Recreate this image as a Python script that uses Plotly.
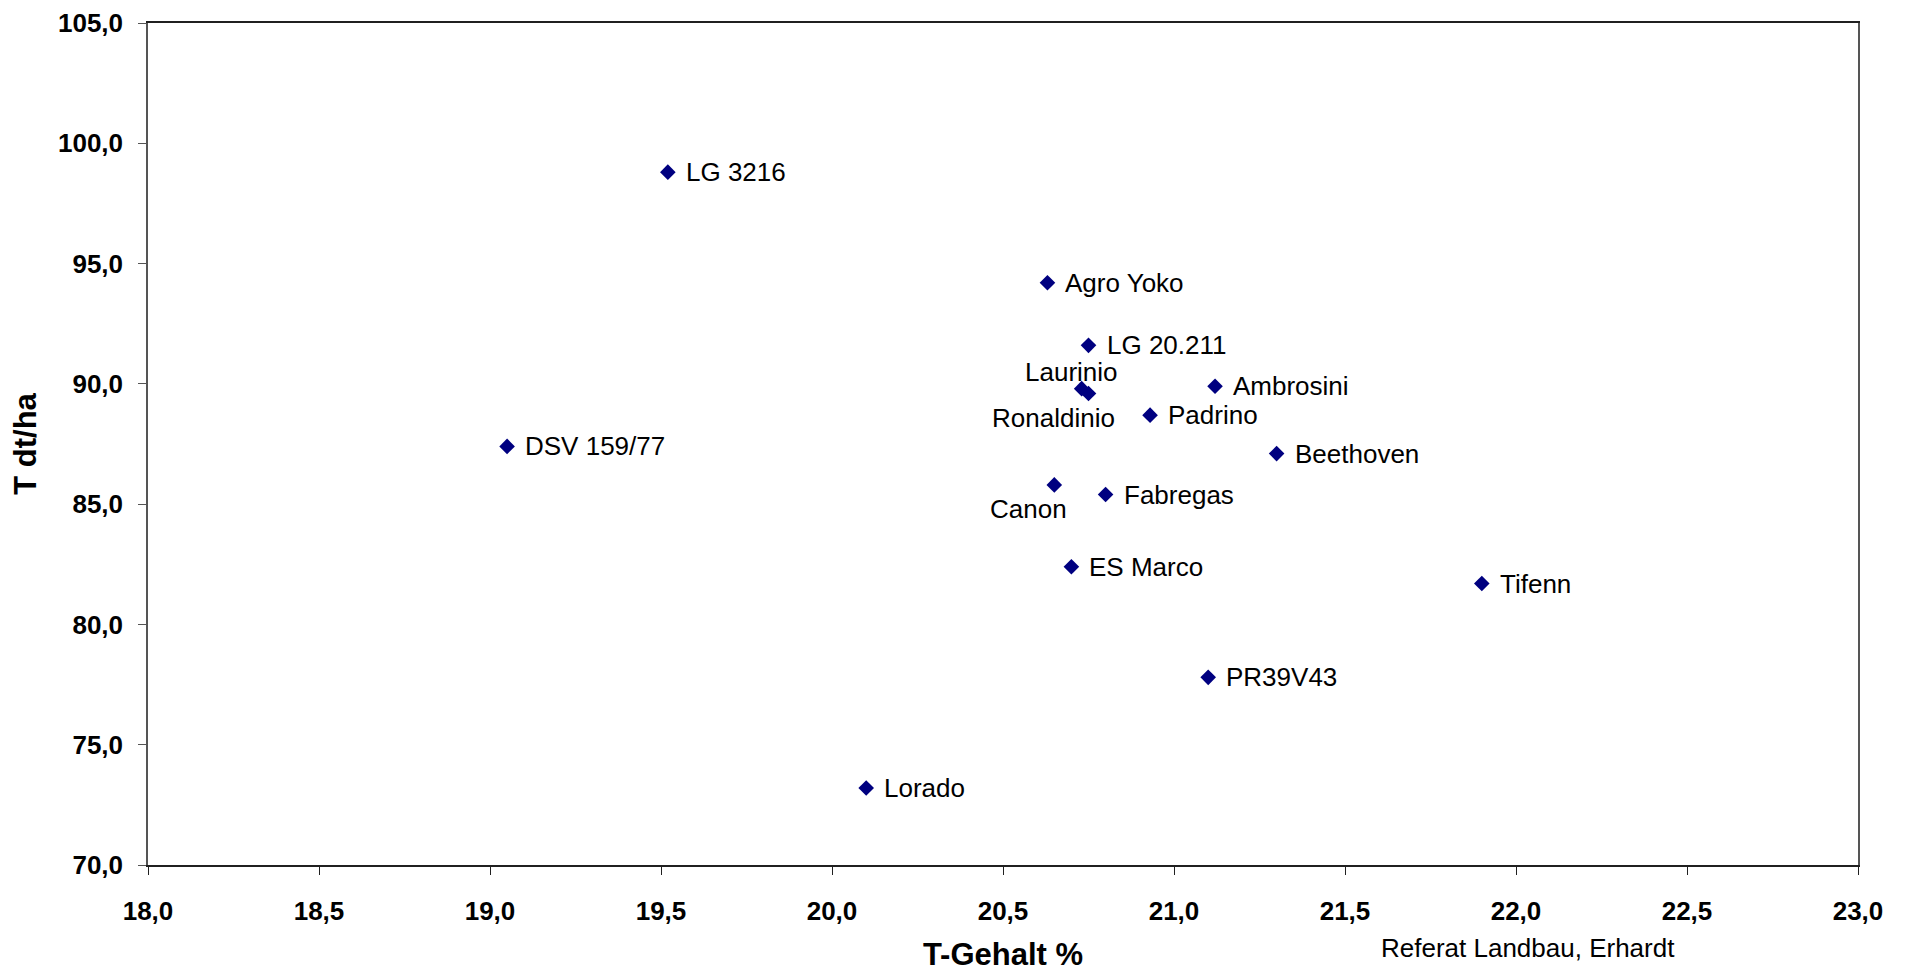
import plotly.graph_objects as go

names = ["LG 3216", "Agro Yoko", "LG 20.211", "Laurinio", "Ronaldinio", "Ambrosini",
         "Padrino", "Beethoven", "DSV 159/77", "Canon", "Fabregas", "ES Marco",
         "Tifenn", "PR39V43", "Lorado"]
t_gehalt = [19.52, 20.63, 20.75, 20.73, 20.75, 21.12,
            20.93, 21.30, 19.05, 20.65, 20.80, 20.70,
            21.90, 21.10, 20.10]
t_ertrag = [98.8, 94.2, 91.6, 89.8, 89.6, 89.9,
            88.7, 87.1, 87.4, 85.8, 85.4, 82.4,
            81.7, 77.8, 73.2]

# label placement per point: (xanchor, xshift, yshift)
label_pos = {
    "Laurinio": ("center", -10, 17),
    "Ronaldinio": ("center", -35, -25),
    "Canon": ("center", -26, -24),
}

x_ticks = [18.0, 18.5, 19.0, 19.5, 20.0, 20.5, 21.0, 21.5, 22.0, 22.5, 23.0]
y_ticks = [70.0, 75.0, 80.0, 85.0, 90.0, 95.0, 100.0, 105.0]

FONT = "Liberation Sans, Arial, sans-serif"

fig = go.Figure()
fig.add_trace(go.Scatter(
    x=t_gehalt, y=t_ertrag, mode="markers",
    marker=dict(symbol="diamond", size=12, color="#000080"),
    text=names, hoverinfo="text+x+y", showlegend=False,
))

annotations = []
for n, xv, yv in zip(names, t_gehalt, t_ertrag):
    xa, xs, ys = label_pos.get(n, ("left", 16, 0))
    annotations.append(dict(
        x=xv, y=yv, xref="x", yref="y", text=n, showarrow=False,
        xanchor=xa, yanchor="middle", xshift=xs, yshift=ys,
        font=dict(family=FONT, size=26, color="black"),
    ))

annotations.append(dict(
    x=0.72, y=-0.098, xref="paper", yref="paper", text="Referat Landbau, Erhardt",
    showarrow=False, xanchor="left", yanchor="middle",
    font=dict(family=FONT, size=26, color="black"),
))

fig.update_layout(
    width=1898, height=964,
    margin=dict(l=140, r=48, t=15, b=107),
    paper_bgcolor="white", plot_bgcolor="white",
    separators=",.",
    font=dict(family=FONT, color="black"),
    annotations=annotations,
    xaxis=dict(
        range=[18, 23], tickvals=x_ticks, tickformat=".1f",
        showgrid=False, zeroline=False, automargin=False,
        showline=True, linecolor="#202020", linewidth=1.5, mirror=True,
        ticks="outside", ticklen=8, tickcolor="#202020",
        tickfont=dict(family=FONT, size=26, color="black", weight="bold"),
        ticklabelstandoff=14, ticklabeloverflow="allow",
        title=dict(text="<b>T-Gehalt %</b>", font=dict(family=FONT, size=31, color="black"),
                   standoff=20),
    ),
    yaxis=dict(
        range=[70, 105], tickvals=y_ticks, tickformat=".1f",
        showgrid=False, zeroline=False, automargin=False,
        showline=True, linecolor="#555555", linewidth=1.5, mirror=True,
        ticks="outside", ticklen=8, tickcolor="#555555",
        tickfont=dict(family=FONT, size=26, color="black", weight="bold"),
        ticklabelstandoff=10, ticklabeloverflow="allow",
        title=dict(text="<b>T dt/ha</b>", font=dict(family=FONT, size=31, color="black"),
                   standoff=16),
    ),
)

fig.write_html("out.html")
